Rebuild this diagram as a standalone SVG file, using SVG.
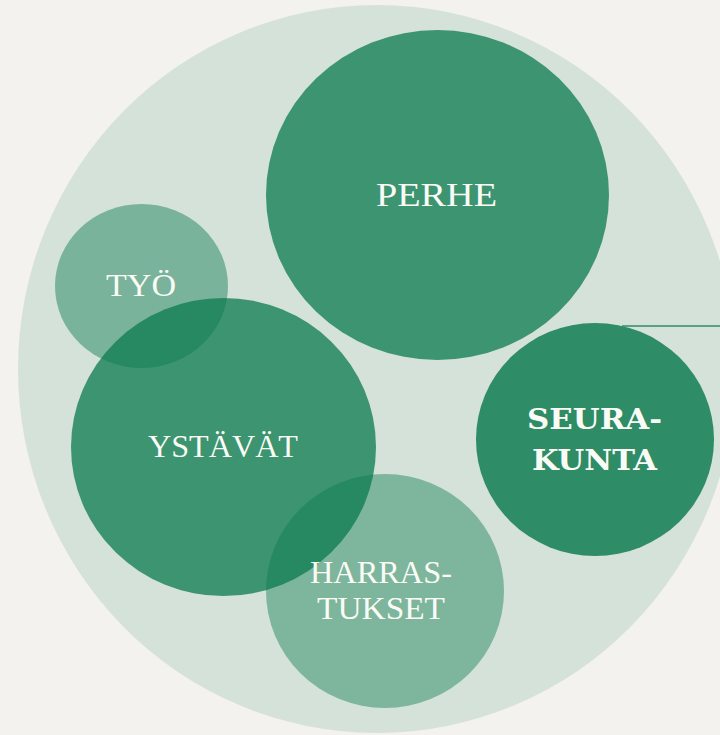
<svg xmlns="http://www.w3.org/2000/svg" width="720" height="735" viewBox="0 0 720 735">
  <style>
    .c { fill: #0c7b4f; }
    .t { fill: #fbfbf6; font-family: "Liberation Serif", "DejaVu Serif", serif; text-anchor: middle; }
    .b { font-family: "DejaVu Serif", "Liberation Serif", serif; font-weight: bold; }
    .conn { stroke: #2e8b65; stroke-width: 1.5; fill: none; }
  </style>
  <rect width="720" height="735" fill="#f3f2ee"/>
  <g id="background">
    <ellipse class="c" cx="377" cy="369" rx="359" ry="364" fill-opacity="0.13"/>
  </g>
  <g id="perhe">
    <ellipse class="c" cx="437.5" cy="195" rx="171.5" ry="165" fill-opacity="0.76"/>
    <text class="t" x="436.5" y="206" font-size="34" textLength="121" lengthAdjust="spacingAndGlyphs">PERHE</text>
  </g>
  <g id="tyo">
    <ellipse class="c" cx="141.5" cy="286" rx="86.5" ry="82" fill-opacity="0.45"/>
    <text class="t" x="141" y="296" font-size="31" textLength="70" lengthAdjust="spacingAndGlyphs">TYÖ</text>
  </g>
  <g id="ystavat">
    <ellipse class="c" cx="223.5" cy="447" rx="152.5" ry="149" fill-opacity="0.76"/>
    <text class="t" x="223" y="457" font-size="31" textLength="150" lengthAdjust="spacingAndGlyphs">YSTÄVÄT</text>
  </g>
  <g id="harrastukset">
    <ellipse class="c" cx="385" cy="591" rx="119" ry="117" fill-opacity="0.43"/>
    <text class="t" x="381" y="583" font-size="31" textLength="142" lengthAdjust="spacingAndGlyphs">HARRAS-</text>
    <text class="t" x="381" y="619" font-size="31" textLength="128" lengthAdjust="spacingAndGlyphs">TUKSET</text>
  </g>
  <g id="seurakunta">
    <ellipse class="c" cx="595" cy="439.5" rx="119" ry="116.5" fill-opacity="0.83"/>
    <text class="t b" x="594.5" y="429" font-size="27" textLength="135" lengthAdjust="spacingAndGlyphs">SEURA-</text>
    <text class="t b" x="594.5" y="470" font-size="27" textLength="125" lengthAdjust="spacingAndGlyphs">KUNTA</text>
  </g>
  <g id="connectors">
    <line class="conn" x1="622" y1="326" x2="720" y2="326"/>
  </g>
</svg>
